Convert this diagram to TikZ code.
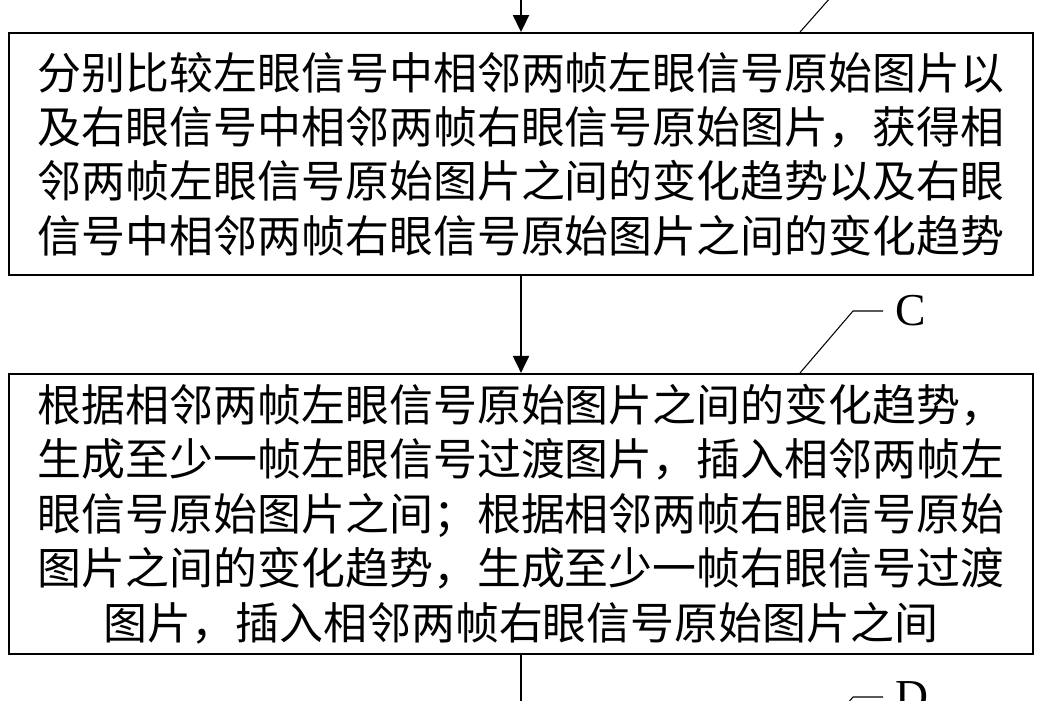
\documentclass[tikz,border=0pt]{standalone}
\usepackage{fontspec}
\setmainfont{Liberation Serif}
\newfontfamily\cjk{Noto Sans CJK SC}
\usetikzlibrary{arrows.meta, positioning}

\begin{document}
\begin{tikzpicture}[
  x=0.02cm, y=-0.02cm,
  stepbox/.style={
    draw,
    line width=1.1pt,
    minimum width=20.48cm,
    inner sep=0pt,
    align=center,
    font=\cjk\fontsize{25}{31}\selectfont
    },
  flow/.style={line width=1.1pt, -{Triangle[length=0.34cm, width=0.32cm]}},
  leader/.style={line width=0.6pt},
  tag/.style={font=\fontsize{26}{30}\selectfont, inner xsep=7pt, inner ysep=0pt, anchor=west}
]

\useasboundingbox (0,0) rectangle (1050,700);
\clip (0,0) rectangle (1050,700);

\node[stepbox, minimum height=4.84cm] (compare) at (521,154)
  {
  分别比较左眼信号中相邻两帧左眼信号原始图片以\\
  及右眼信号中相邻两帧右眼信号原始图片，获得相\\
  邻两帧左眼信号原始图片之间的变化趋势以及右眼\\
  信号中相邻两帧右眼信号原始图片之间的变化趋势
  };

\node[stepbox, minimum height=5.6cm, below=1.94cm of compare] (insert)
  {
  根据相邻两帧左眼信号原始图片之间的变化趋势，\\
  生成至少一帧左眼信号过渡图片，插入相邻两帧左\\
  眼信号原始图片之间；根据相邻两帧右眼信号原始\\
  图片之间的变化趋势，生成至少一帧右眼信号过渡\\
  图片，插入相邻两帧右眼信号原始图片之间
  };

      % Draw flow
      \coordinate (start) at (compare.north |- 0,-60);
      \coordinate (next) at (insert.south |- 0,760);
      \draw[flow] (start) -- (compare);
      \draw[flow] (compare) -- (insert);
      \draw[flow] (insert) -- (next);

      % Draw leaders
      \coordinate (kneeB) at (853,-28);
      \coordinate (kneeC) at (853,311);
      \coordinate (kneeD) at (853,697);
      \coordinate (footD) at (800,758);
      \node[tag] (labC) at (883,311) {C};
      \node[tag] (labD) at (883,697) {D};
      \draw[leader] (compare.north -| 800,0) -- (kneeB) -- ++(37,0);
      \draw[leader] (insert.north -| 800,0) -- (kneeC) -- (labC.west);
      \draw[leader] (footD) -- (kneeD) -- (labD.west);

\end{tikzpicture}
\end{document}
